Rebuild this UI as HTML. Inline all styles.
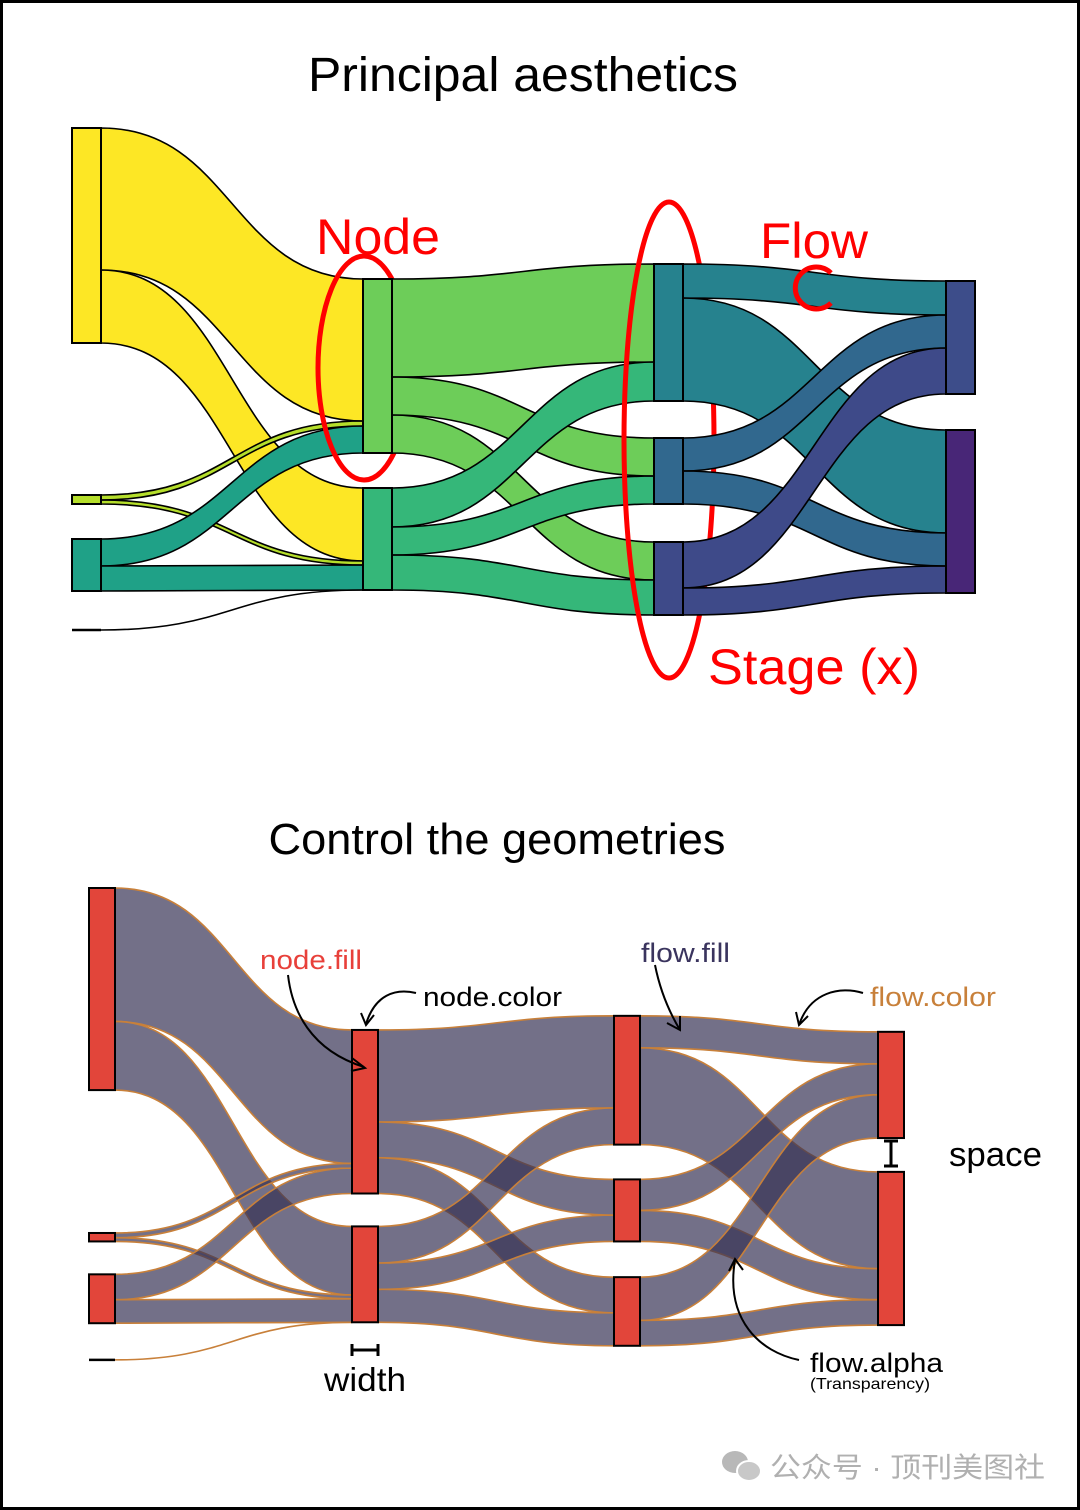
<!DOCTYPE html>
<html><head><meta charset="utf-8"><style>
html,body{margin:0;padding:0;background:#fff}
svg{display:block}
text{font-family:"Liberation Sans",Arial,sans-serif}
</style></head><body>
<svg id="chart" width="1080" height="1510" viewBox="0 0 1080 1510" xmlns="http://www.w3.org/2000/svg">
<rect x="1.5" y="1.5" width="1077" height="1507" fill="#fff" stroke="#000" stroke-width="3"/>
<text x="523" y="91" font-size="48" text-anchor="middle" textLength="430" lengthAdjust="spacingAndGlyphs">Principal aesthetics</text>
<g id="t-seg0"></g>
<ellipse cx="364" cy="368" rx="46" ry="112" fill="none" stroke="#ff0000" stroke-width="5"/>
<g id="t-seg1"></g>
<ellipse cx="669" cy="440" rx="45" ry="238" fill="none" stroke="#ff0000" stroke-width="5"/>
<g id="t-seg2"></g>
<path d="M831 273 A21 21 0 1 0 831 303" fill="none" stroke="#ff0000" stroke-width="5"/>
<g id="t-nodes"></g>
<text x="316" y="254" font-size="50" fill="#ff0000" textLength="124" lengthAdjust="spacingAndGlyphs">Node</text>
<text x="760" y="258" font-size="50" fill="#ff0000" textLength="108" lengthAdjust="spacingAndGlyphs">Flow</text>
<text x="708" y="684" font-size="50" fill="#ff0000" textLength="212" lengthAdjust="spacingAndGlyphs">Stage (x)</text>

<text x="497" y="854" font-size="44" text-anchor="middle" textLength="457" lengthAdjust="spacingAndGlyphs">Control the geometries</text>
<g id="b-seg0"></g>
<g id="b-seg1"></g>
<g id="b-seg2"></g>
<g id="b-nodes"></g>

<g fill="none" stroke="#000" stroke-width="2">
  <path d="M288 975 C292 1010 310 1050 364 1067"/>
  <path d="M352 1058 L365 1068 L351 1071"/>
  <path d="M416 993 C395 988 375 995 366 1024"/>
  <path d="M361 1013 L366 1025 L374 1015"/>
  <path d="M655 965 C660 990 668 1010 680 1030"/>
  <path d="M667 1023 L680 1030 L680 1016"/>
  <path d="M863 993 C840 986 810 992 799 1025"/>
  <path d="M796 1012 L799 1025 L808 1016"/>
  <path d="M799 1360 C760 1352 725 1320 735 1260"/>
  <path d="M729 1271 L735 1259 L743 1270"/>
  <path stroke-width="3" d="M884 1141 L898 1141 M891 1141 L891 1166 M884 1166 L898 1166"/>
  <path stroke-width="3" d="M352 1344 L352 1356 M352 1350 L378 1350 M378 1344 L378 1356"/>
</g>
<text x="260" y="969" font-size="27" fill="#e8403a" textLength="102" lengthAdjust="spacingAndGlyphs">node.fill</text>
<text x="423" y="1006" font-size="27" fill="#000" textLength="139" lengthAdjust="spacingAndGlyphs">node.color</text>
<text x="641" y="962" font-size="27" fill="#3a345e" textLength="89" lengthAdjust="spacingAndGlyphs">flow.fill</text>
<text x="870" y="1006" font-size="27" fill="#c8803a" textLength="126" lengthAdjust="spacingAndGlyphs">flow.color</text>
<text x="949" y="1166" font-size="34" fill="#000" textLength="93" lengthAdjust="spacingAndGlyphs">space</text>
<text x="324" y="1391" font-size="33" fill="#000" textLength="82" lengthAdjust="spacingAndGlyphs">width</text>
<text x="810" y="1372" font-size="27" fill="#000" textLength="133" lengthAdjust="spacingAndGlyphs">flow.alpha</text>
<text x="810" y="1389" font-size="16" fill="#000" textLength="120" lengthAdjust="spacingAndGlyphs">(Transparency)</text>

<g>
  <ellipse cx="735" cy="1462" rx="13" ry="11" fill="#b8b8b8"/>
  <ellipse cx="749" cy="1471" rx="12" ry="10" fill="#c8c8c8" stroke="#fff" stroke-width="2"/>
  <text x="770" y="1477" font-size="28" fill="#b0b0b0" style="font-family:'Liberation Sans','Noto Sans CJK SC',sans-serif" textLength="275" lengthAdjust="spacingAndGlyphs">公众号 · 顶刊美图社</text>
</g>
</svg>
<script>
// ---- data (shared by both diagrams) ----
const nodeNames = ['A','B','C','D','E','F','G','H','I','J','K'];
const nodeStage = [0,0,0,0,1,1,2,2,2,3,3];
const nodePos   = [0,367,411,502,151,360,136,310,414,153,302];
const flowSrc = ['A','A','B','B','C','C','D','E','E','E','F','F','F','G','G','H','H','I','I'];
const flowTgt = ['E','F','E','F','E','F','F','G','H','I','G','H','I','J','K','J','K','J','K'];
const flowVal = [142,73,5,4,27,25,0,98,38,38,39,28,35,34,103,33,33,46,27];
const nodeColors = ['#fde725','#b5de2b','#1fa187','#000000','#6dcd59','#35b779','#26828e','#31688e','#3e4a89','#3d4d8a','#482677'];

const NS = 'http://www.w3.org/2000/svg';
function layout() {
  const n = nodeNames.length;
  const size = new Array(n).fill(0), outOff = new Array(n).fill(0), inOff = new Array(n).fill(0);
  const inSum = new Array(n).fill(0), outSum = new Array(n).fill(0);
  flowVal.forEach((v, i) => { outSum[nodeNames.indexOf(flowSrc[i])] += v; inSum[nodeNames.indexOf(flowTgt[i])] += v; });
  for (let i = 0; i < n; i++) size[i] = Math.max(inSum[i], outSum[i]);
  const fl = flowVal.map((v, i) => {
    const s = nodeNames.indexOf(flowSrc[i]), t = nodeNames.indexOf(flowTgt[i]);
    const r = { s, t, v, s0: nodePos[s] + outOff[s], t0: nodePos[t] + inOff[t] };
    outOff[s] += v; inOff[t] += v;
    return r;
  });
  return { size, fl };
}
function draw(p, cfg) {
  const L = layout();
  const y = v => cfg.y0 + v * cfg.k;
  L.fl.forEach(f => {
    const st = nodeStage[f.s];
    const x1 = cfg.sx[st] + cfg.w, x2 = cfg.sx[st + 1], xm = (x1 + x2) / 2;
    const a1 = y(f.s0), b1 = y(f.s0 + f.v), a2 = y(f.t0), b2 = y(f.t0 + f.v);
    const d = `M${x1} ${a1} C${xm} ${a1} ${xm} ${a2} ${x2} ${a2} L${x2} ${b2} C${xm} ${b2} ${xm} ${b1} ${x1} ${b1} Z`;
    const el = document.createElementNS(NS, 'path');
    el.setAttribute('d', d);
    el.setAttribute('fill', cfg.flowFill ? cfg.flowFill : nodeColors[f.s]);
    if (cfg.flowOpacity) el.setAttribute('fill-opacity', cfg.flowOpacity);
    el.setAttribute('stroke', cfg.flowStroke);
    el.setAttribute('stroke-width', cfg.flowSW);
    
    
    document.getElementById(p + '-seg' + st).appendChild(el);
  });
  const g = document.getElementById(p + '-nodes');
  nodeNames.forEach((nm, i) => {
    const x = cfg.sx[nodeStage[i]];
    const top = y(nodePos[i]), h = L.size[i] * cfg.k;
    let el;
    if (h === 0) {
      el = document.createElementNS(NS, 'line');
      el.setAttribute('x1', x); el.setAttribute('x2', x + cfg.w);
      el.setAttribute('y1', top); el.setAttribute('y2', top);
      el.setAttribute('stroke', '#000'); el.setAttribute('stroke-width', 2.5);
    } else {
      el = document.createElementNS(NS, 'rect');
      el.setAttribute('x', x); el.setAttribute('y', top);
      el.setAttribute('width', cfg.w); el.setAttribute('height', h);
      el.setAttribute('fill', cfg.nodeFill ? cfg.nodeFill : nodeColors[i]);
      el.setAttribute('stroke', '#000'); el.setAttribute('stroke-width', 2);
    }
    
    
    g.appendChild(el);
  });
}
draw('t', { y0: 128, k: 1, sx: [72, 363, 654, 946], w: 29, flowStroke: '#000', flowSW: 1.6 });
draw('b', { y0: 888, k: 0.94, sx: [89, 352, 614, 878], w: 26, flowFill: 'rgb(56,51,86)', flowOpacity: 0.7,
            flowStroke: '#c8803a', flowSW: 1.6, nodeFill: '#e2453a' });
</script>
</body></html>
